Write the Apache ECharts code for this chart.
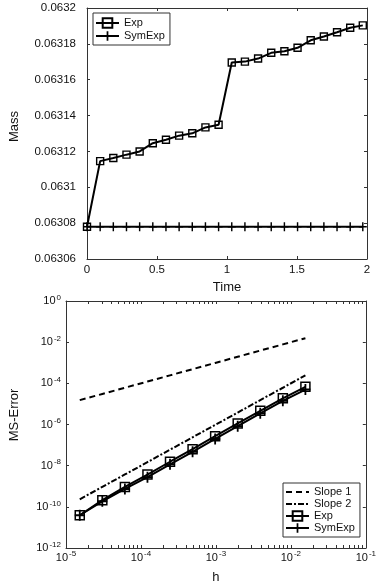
<!DOCTYPE html>
<html>
<head>
<meta charset="utf-8">
<script src="https://cdn.jsdelivr.net/npm/echarts@6/dist/echarts.min.js"></script>
<style>
html,body{margin:0;padding:0;background:#fff;}
#chart{width:379px;height:587px;}
</style>
</head>
<body>
<div id="chart"></div>
<script>
// ---- Top panel: Mass vs Time ----
const timeValues = [0, 0.094, 0.188, 0.282, 0.376, 0.470, 0.564, 0.658, 0.752, 0.846, 0.940,
  1.034, 1.128, 1.222, 1.316, 1.410, 1.504, 1.598, 1.692, 1.786, 1.880, 1.970];
const massExp = [0.063078, 0.0631146, 0.0631163, 0.0631182, 0.06312, 0.0631246, 0.0631265,
  0.0631288, 0.0631301, 0.0631334, 0.0631349, 0.0631696, 0.0631701, 0.0631718, 0.063175,
  0.0631759, 0.0631778, 0.063182, 0.0631841, 0.0631865, 0.063189, 0.0631903];
const massSymExp = [0.063078, 0.063078, 0.063078, 0.063078, 0.063078, 0.063078, 0.063078,
  0.063078, 0.063078, 0.063078, 0.063078, 0.063078, 0.063078, 0.063078, 0.063078,
  0.063078, 0.063078, 0.063078, 0.063078, 0.063078, 0.063078, 0.063078];
const timeTicks = [0, 0.5, 1, 1.5, 2];
const massTicks = [0.06306, 0.06308, 0.0631, 0.06312, 0.06314, 0.06316, 0.06318, 0.0632];

// ---- Bottom panel: MS-Error vs h (log-log) ----
const hValues = [1.526e-5, 3.052e-5, 6.104e-5, 1.221e-4, 2.441e-4, 4.883e-4, 9.766e-4,
  1.953e-3, 3.906e-3, 7.813e-3, 1.563e-2];
const slope1 = [1.526e-5, 3.052e-5, 6.104e-5, 1.221e-4, 2.441e-4, 4.883e-4, 9.766e-4,
  1.953e-3, 3.906e-3, 7.813e-3, 1.563e-2];
const slope2 = [2.33e-10, 9.31e-10, 3.73e-9, 1.49e-8, 5.96e-8, 2.38e-7, 9.54e-7,
  3.81e-6, 1.53e-5, 6.10e-5, 2.44e-4];
const errExp = [3.9e-11, 2.1e-10, 9.3e-10, 3.7e-9, 1.55e-8, 6.3e-8, 2.7e-7,
  1.12e-6, 4.6e-6, 1.86e-5, 6.8e-5];
const errSymExp = [3.9e-11, 1.86e-10, 7.4e-10, 2.75e-9, 1.17e-8, 4.7e-8, 2.0e-7,
  8.3e-7, 3.5e-6, 1.41e-5, 5.0e-5];
const hTickExponents = [-5, -4, -3, -2, -1];
const errTickExponents = [-12, -10, -8, -6, -4, -2, 0];
const minorMultipliers = [2, 3, 4, 5, 6, 7, 8, 9];

// ---------------------------------------------------------
const FONT = 'Liberation Sans';
const AX = '#333';
const TXT = '#111';
const PLUS = 'path://M4.1,0H5.9V4.1H10V5.9H5.9V10H4.1V5.9H0V4.1H4.1Z';

const hMinor = [];
hTickExponents.slice(0, -1).forEach(function (d) {
  minorMultipliers.forEach(function (k) { hMinor.push(d + Math.log10(k)); });
});
const hAllTicks = hTickExponents.concat(hMinor);

const pairs = (xs, ys, fx, fy) => xs.map((x, i) => [fx ? fx(x) : x, fy ? fy(ys[i]) : ys[i]]);
const lg = v => Math.log10(v);

const supFmt = v => '{b|10}{s|' + Math.round(v) + '}';
const supRich = {
  b: { fontSize: 11, fontFamily: FONT, color: TXT },
  s: { fontSize: 8, fontFamily: FONT, color: TXT, padding: [0, 0, 7, 1] }
};

function boxAxis(base, pos, labels) {
  return Object.assign({
    position: pos,
    axisLine: { show: true, onZero: false, lineStyle: { color: AX, width: 1 } },
    axisTick: { show: true, inside: true, length: 3, lineStyle: { color: AX } },
    splitLine: { show: false },
    axisLabel: { show: labels }
  }, base);
}

const chart = echarts.init(document.getElementById('chart'), null, { renderer: 'canvas' });

const legendText = { fontSize: 11, color: TXT, fontFamily: FONT, lineHeight: 12 };

const option = {
  animation: false,
  backgroundColor: '#fff',
  textStyle: { fontFamily: FONT, color: TXT },
  grid: [
    { left: 83, top: 8, width: 284, height: 251 },
    { left: 62, top: 301, width: 305, height: 247 }
  ],
  xAxis: [
    boxAxis({
      type: 'value', gridIndex: 0, min: 0, max: 2, interval: 0.5,
      name: 'Time', nameLocation: 'middle', nameGap: 22,
      nameTextStyle: { fontSize: 13, color: TXT, fontFamily: FONT },
      axisLabel: { show: true, margin: 5, fontSize: 11.5, color: TXT,
        customValues: timeTicks, formatter: v => String(v) },
      axisTick: { show: true, inside: true, length: 3, lineStyle: { color: AX }, customValues: timeTicks }
    }, 'bottom', true),
    boxAxis({ type: 'value', gridIndex: 0, min: 0, max: 2, interval: 0.5,
      axisTick: { show: true, inside: true, length: 3, lineStyle: { color: AX }, customValues: timeTicks } }, 'top', false),
    boxAxis({
      type: 'value', gridIndex: 1, min: -5, max: -1, interval: 1,
      name: 'h', nameLocation: 'middle', nameGap: 23,
      nameTextStyle: { fontSize: 13, color: TXT, fontFamily: FONT },
      axisLabel: { show: true, margin: 2, customValues: hTickExponents, formatter: supFmt, rich: supRich },
      axisTick: { show: true, inside: true, length: 3, lineStyle: { color: AX }, customValues: hAllTicks }
    }, 'bottom', true),
    boxAxis({ type: 'value', gridIndex: 1, min: -5, max: -1, interval: 1,
      axisTick: { show: true, inside: true, length: 3, lineStyle: { color: AX }, customValues: hAllTicks } }, 'top', false)
  ],
  yAxis: [
    boxAxis({
      type: 'value', gridIndex: 0, min: 0.06306, max: 0.0632, interval: 0.00002,
      name: 'Mass', nameLocation: 'middle', nameGap: 66,
      nameTextStyle: { fontSize: 13, color: TXT, fontFamily: FONT, padding: [0, 0, 0, 14] },
      axisLabel: { show: true, margin: 11, fontSize: 11.5, color: TXT,
        customValues: massTicks, formatter: v => String(+v.toFixed(5)) },
      axisTick: { show: true, inside: true, length: 3, lineStyle: { color: AX }, customValues: massTicks }
    }, 'left', true),
    boxAxis({ type: 'value', gridIndex: 0, min: 0.06306, max: 0.0632, interval: 0.00002,
      axisTick: { show: true, inside: true, length: 3, lineStyle: { color: AX }, customValues: massTicks } }, 'right', false),
    boxAxis({
      type: 'value', gridIndex: 1, min: -12, max: 0, interval: 2,
      name: 'MS-Error', nameLocation: 'middle', nameGap: 45,
      nameTextStyle: { fontSize: 13, color: TXT, fontFamily: FONT, padding: [0, 0, 0, 19] },
      axisLabel: { show: true, margin: 5, customValues: errTickExponents, formatter: supFmt, rich: supRich },
      axisTick: { show: true, inside: true, length: 3, lineStyle: { color: AX }, customValues: errTickExponents }
    }, 'left', true),
    boxAxis({ type: 'value', gridIndex: 1, min: -12, max: 0, interval: 2,
      axisTick: { show: true, inside: true, length: 3, lineStyle: { color: AX }, customValues: errTickExponents } }, 'right', false)
  ],
  legend: [
    {
      data: ['Exp', 'SymExp'],
      orient: 'vertical', left: 93, top: 13,
      padding: [4, 5, 3, 2], itemGap: 1, itemWidth: 23, itemHeight: 12,
      borderColor: '#333', borderWidth: 1, backgroundColor: '#fff',
      textStyle: legendText,
      selectedMode: false
    },
    {
      data: [
        { name: 'Slope 1', itemStyle: { opacity: 0 } },
        { name: 'Slope 2', itemStyle: { opacity: 0 } },
        'Exp ', 'SymExp '
      ],
      formatter: n => n.trim(),
      orient: 'vertical', left: 283, top: 483,
      padding: [3, 5, 3, 2], itemGap: 0, itemWidth: 23, itemHeight: 12,
      borderColor: '#333', borderWidth: 1, backgroundColor: '#fff',
      textStyle: legendText,
      selectedMode: false
    }
  ],
  series: [
    {
      name: 'Exp', type: 'line', xAxisIndex: 0, yAxisIndex: 0,
      data: pairs(timeValues, massExp),
      symbol: 'rect', symbolSize: 7, showAllSymbol: true,
      lineStyle: { color: '#000', width: 2 },
      itemStyle: { color: 'rgba(255,255,255,0)', borderColor: '#000', borderWidth: 1.4 },
      z: 3
    },
    {
      name: 'SymExp', type: 'line', xAxisIndex: 0, yAxisIndex: 0,
      data: pairs(timeValues, massSymExp),
      symbol: PLUS, symbolSize: [8, 9], showAllSymbol: true,
      lineStyle: { color: '#000', width: 2 },
      itemStyle: { color: '#000', borderWidth: 0 },
      z: 2
    },
    {
      name: 'Slope 1', type: 'line', xAxisIndex: 2, yAxisIndex: 2,
      data: pairs(hValues, slope1, lg, lg), showSymbol: false, symbol: 'none',
      lineStyle: { color: '#000', width: 2, type: [6, 4] },
      itemStyle: { color: '#000' }
    },
    {
      name: 'Slope 2', type: 'line', xAxisIndex: 2, yAxisIndex: 2,
      data: pairs(hValues, slope2, lg, lg), showSymbol: false, symbol: 'none',
      lineStyle: { color: '#000', width: 2, type: [6, 2, 2, 2] },
      itemStyle: { color: '#000' }
    },
    {
      name: 'Exp ', type: 'line', xAxisIndex: 2, yAxisIndex: 2,
      data: pairs(hValues, errExp, lg, lg),
      symbol: 'rect', symbolSize: 9, showAllSymbol: true,
      lineStyle: { color: '#000', width: 2 },
      itemStyle: { color: 'rgba(255,255,255,0)', borderColor: '#000', borderWidth: 1.5 },
      z: 3
    },
    {
      name: 'SymExp ', type: 'line', xAxisIndex: 2, yAxisIndex: 2,
      data: pairs(hValues, errSymExp, lg, lg),
      symbol: PLUS, symbolSize: [10, 11], showAllSymbol: true,
      lineStyle: { color: '#000', width: 2 },
      itemStyle: { color: '#000', borderWidth: 0 },
      z: 2
    }
  ]
};
chart.setOption(option);
</script>
</body>
</html>
